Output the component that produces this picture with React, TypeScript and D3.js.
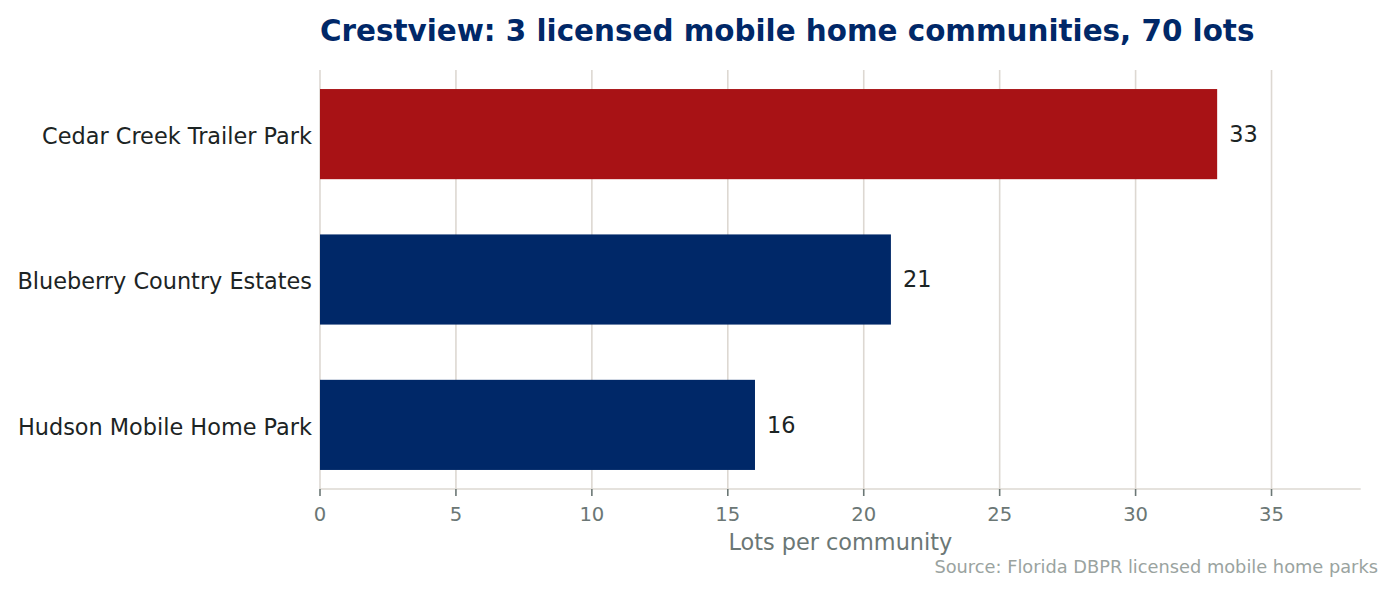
import React from "react";
import * as d3 from "d3";

const categories = ["Cedar Creek Trailer Park", "Blueberry Country Estates", "Hudson Mobile Home Park"];
const lots = [33, 21, 16];
const barColors = ["#A81215", "#002868", "#002868"];
const xTicks = [0, 5, 10, 15, 20, 25, 30, 35];
const title = "Crestview: 3 licensed mobile home communities, 70 lots";
const xLabel = "Lots per community";
const source = "Source: Florida DBPR licensed mobile home parks";

const W = 1395;
const H = 593;
const left = 320;
const right = 1360.7;
const top = 70;
const bottom = 489;
const font = "DejaVu Sans, sans-serif";

export default function App() {
  const x = d3.scaleLinear().domain([0, 33 * 1.16]).range([left, right]);
  const y = d3.scaleLinear().domain([-0.441, 2.441]).range([top, bottom]);
  const barH = 0.62;
  return (
    <svg width={W} height={H} style={{ position: "absolute", left: 0, top: 0, background: "#fff" }} fontFamily={font}>
      {xTicks.map((t) => (
        <line key={"g" + t} x1={x(t)} x2={x(t)} y1={top} y2={bottom} stroke="#ddd8d2" strokeWidth={1.6} />
      ))}
      {lots.map((v, i) => (
        <g key={i}>
          <rect x={x(0)} y={y(i - barH / 2)} width={x(v) - x(0)} height={y(i + barH / 2) - y(i - barH / 2)} fill={barColors[i]} />
          <text x={x(v) + 12} y={y(i)} dy="0.35em" fontSize={22.4} fill="#1c2424">{v}</text>
          <text x={left - 8} y={y(i) + 2} dy="0.35em" fontSize={22.4} fill="#1c2424" textAnchor="end">{categories[i]}</text>
        </g>
      ))}
      <line x1={left} x2={right} y1={bottom} y2={bottom} stroke="#ddd8d2" strokeWidth={1.6} />
      {xTicks.map((t) => (
        <g key={"t" + t}>
          <line x1={x(t)} x2={x(t)} y1={bottom} y2={bottom + 7} stroke="#6b7775" strokeWidth={1.6} />
          <text x={x(t)} y={521} fontSize={19.6} fill="#6b7775" textAnchor="middle">{t}</text>
        </g>
      ))}
      <text x={(left + right) / 2} y={550} fontSize={22.4} fill="#6b7775" textAnchor="middle">{xLabel}</text>
      <text x={1378} y={573} fontSize={17.8} fill="#9aa3a0" textAnchor="end">{source}</text>
      <text x={320} y={41} fontSize={29.4} fontWeight="bold" fill="#002868">{title}</text>
    </svg>
  );
}
